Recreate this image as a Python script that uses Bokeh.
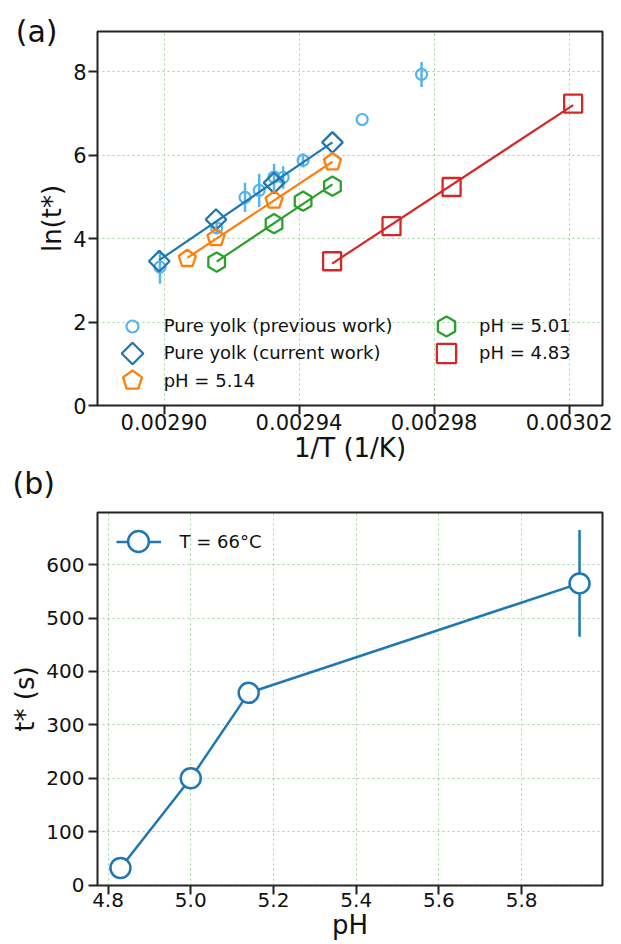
import numpy as np
from bokeh.plotting import figure
from bokeh.models import (Range1d, FixedTicker, PrintfTickFormatter, Legend, LegendItem,
                          LinearAxis, CustomJSTickFormatter, Title)
from bokeh.layouts import column
from bokeh.embed import file_html
from bokeh.resources import INLINE

# ---------------- data: panel (a) ----------------
prev_invT = [0.0028988, 0.0029156, 0.0029240, 0.0029282, 0.0029326, 0.0029353, 0.0029412, 0.0029587, 0.0029763]
prev_ln = [3.32, 4.26, 4.99, 5.16, 5.48, 5.47, 5.88, 6.86, 7.94]
prev_err = [0.40, 0.12, 0.35, 0.40, 0.32, 0.27, 0.17, 0.0, 0.30]

cur_invT = [0.0028986, 0.0029154, 0.0029326, 0.0029499]
cur_ln = [3.46, 4.46, 5.34, 6.31]

ph514_invT = [0.0029069, 0.0029154, 0.0029326, 0.0029499]
ph514_ln = [3.52, 4.02, 4.92, 5.84]

ph501_invT = [0.0029156, 0.0029326, 0.0029412, 0.0029499]
ph501_ln = [3.44, 4.36, 4.90, 5.26]

ph483_invT = [0.0029498, 0.0029674, 0.0029852, 0.0030212]
ph483_ln = [3.46, 4.30, 5.24, 7.24]

xticks_a = [0.00290, 0.00294, 0.00298, 0.00302]
yticks_a = [0, 2, 4, 6, 8]

# ---------------- data: panel (b) ----------------
pH = [4.83, 5.00, 5.14, 5.94]
tstar = [32, 200, 360, 565]
tstar_err = [0, 0, 0, 100]
xticks_b = [4.8, 5.0, 5.2, 5.4, 5.6, 5.8]
yticks_b = [0, 100, 200, 300, 400, 500, 600]

BLUE = "#1f77b4"
ORANGE = "#ff7f0e"
GREEN = "#2ca02c"
RED = "#d62728"
LIGHT = "#56b4e9"
FONT = "DejaVu Sans"
INK = "#222222"


def style(p, tick_size, lab_size):
    p.outline_line_color = INK
    p.outline_line_width = 2
    p.outline_line_alpha = 1
    p.background_fill_color = "white"
    p.border_fill_color = "white"
    for g in p.grid:
        g.grid_line_color = GREEN
        g.grid_line_alpha = 0.45
        g.grid_line_width = 1
        g.grid_line_dash = "2 3"
    for ax in p.axis:
        ax.axis_line_color = None
        ax.major_tick_out = 9
        ax.major_tick_in = 0
        ax.major_tick_line_width = 2
        ax.major_tick_line_color = INK
        ax.minor_tick_line_color = None
        ax.major_label_text_font = FONT
        ax.major_label_text_font_size = tick_size
        ax.major_label_text_color = "#111111"
        ax.axis_label_text_font = FONT
        ax.axis_label_text_font_size = lab_size
        ax.axis_label_text_font_style = "normal"
        ax.axis_label_text_color = "#111111"


def fit_line(xs, ys):
    k, b = np.polyfit(xs, ys, 1)
    x0, x1 = min(xs), max(xs)
    return [x0, x1], [k * x0 + b, k * x1 + b]


def one_legend(p, label, renderers, gw, gh, x, y, standoff):
    lg = Legend(items=[LegendItem(label=label, renderers=renderers)],
                location=(x, y), glyph_width=int(gw), glyph_height=int(gh),
                label_standoff=int(standoff), padding=0, margin=0, spacing=0,
                border_line_color=None, background_fill_alpha=0,
                label_text_font=FONT, label_text_font_size="18px",
                label_text_color="#111111")
    p.add_layout(lg, "center")
    return lg


# ================= panel (a) =================
p1 = figure(frame_width=505, frame_height=374,
            x_range=Range1d(0.0028803, 0.0030299), y_range=Range1d(0, 8.97),
            min_border_left=97, min_border_right=10, min_border_top=31, min_border_bottom=40,
            output_backend="svg", toolbar_location=None)
p1.xaxis.ticker = FixedTicker(ticks=xticks_a)
p1.yaxis.ticker = FixedTicker(ticks=yticks_a)
p1.xaxis.formatter = PrintfTickFormatter(format="%.5f")
p1.xaxis.axis_label = "1/T (1/K)"
p1.yaxis.axis_label = "ln(t*)"
style(p1, "21px", "26px")
p1.xaxis.major_label_standoff = -1
p1.yaxis.major_label_standoff = 2
p1.xaxis.axis_label_standoff = 0
p1.yaxis.axis_label_standoff = 3

# panel tag "(a)": an unlined outer axis whose single label sits at the top-left
tag_a = LinearAxis(ticker=FixedTicker(ticks=[8.965]),
                   formatter=CustomJSTickFormatter(code="return '(a)'"),
                   axis_line_color=None, major_tick_line_color=None, minor_tick_line_color=None,
                   major_tick_out=0, major_tick_in=0, major_label_standoff=-23,
                   major_label_text_font=FONT, major_label_text_font_size="30px",
                   major_label_text_color="#111111")
p1.add_layout(tag_a, "left")

# panel tag "(b)": placed under panel (a)'s x-axis label
tag_b = Title(text="(b)", align="left", vertical_align="top", offset=-85, standoff=0,
              text_font=FONT, text_font_size="30px", text_font_style="normal",
              text_color="#111111")
p1.add_layout(tag_b, "below")

# previous work (error bars + circles)
lo = [v - e for v, e in zip(prev_ln, prev_err)]
hi = [v + e for v, e in zip(prev_ln, prev_err)]
p1.segment(x0=prev_invT, y0=lo, x1=prev_invT, y1=hi, line_color=LIGHT, line_width=2.5)
r_prev = p1.scatter(prev_invT, prev_ln, marker="circle", size=11, fill_color=None,
                    line_color=LIGHT, line_width=2.2)
r_prev_bar = p1.vbar(x=[], top=[], bottom=[], width=0.000001, fill_color=LIGHT, line_color=None)

# current work
fx, fy = fit_line(cur_invT, cur_ln)
p1.line(fx, fy, line_color=BLUE, line_width=2.2)
r_cur = p1.ngon(x=cur_invT, y=cur_ln, radius=10.3, radius_units="screen", n=4,
                fill_color=None, line_color=BLUE, line_width=2.3)

# pH 5.14
fx, fy = fit_line(ph514_invT, ph514_ln)
p1.line(fx, fy, line_color=ORANGE, line_width=2.2)
r_514 = p1.ngon(x=ph514_invT, y=ph514_ln, radius=9, radius_units="screen", n=5,
                fill_color=None, line_color=ORANGE, line_width=2.3)

# pH 5.01
fx, fy = fit_line(ph501_invT, ph501_ln)
p1.line(fx, fy, line_color=GREEN, line_width=2.2)
r_501 = p1.ngon(x=ph501_invT, y=ph501_ln, radius=9.6, radius_units="screen", n=6,
                fill_color=None, line_color=GREEN, line_width=2.3)

# pH 4.83
fx, fy = fit_line(ph483_invT, ph483_ln)
p1.line(fx, fy, line_color=RED, line_width=2.2)
r_483 = p1.scatter(ph483_invT, ph483_ln, marker="square", size=18,
                   fill_color=None, line_color=RED, line_width=2.3)

one_legend(p1, " ", [r_prev_bar], 3, 23, 33.2, 67.8, 0)
one_legend(p1, "Pure yolk (previous work)", [r_prev], 30, 30, 19.7, 64.3, 17)
one_legend(p1, "Pure yolk (current work)", [r_cur], 54, 54, 7.7, 25.3, 5)
one_legend(p1, "pH = 5.14", [r_514], 50, 50, 9.7, 0, 7)
one_legend(p1, "pH = 5.01", [r_501], 50, 50, 324, 54.3, 8)
one_legend(p1, "pH = 4.83", [r_483], 48, 48, 325, 28.3, 9)

# ================= panel (b) =================
p2 = figure(frame_width=505, frame_height=373,
            x_range=Range1d(4.7745, 5.9955), y_range=Range1d(-0.75, 697.75),
            min_border_left=94, min_border_right=10, min_border_top=10, min_border_bottom=30,
            output_backend="svg", toolbar_location=None)
p2.xaxis.ticker = FixedTicker(ticks=xticks_b)
p2.yaxis.ticker = FixedTicker(ticks=yticks_b)
p2.xaxis.formatter = PrintfTickFormatter(format="%.1f")
p2.xaxis.axis_label = "pH"
p2.yaxis.axis_label = "t* (s)"
style(p2, "20px", "26px")
p2.xaxis.major_label_standoff = -2
p2.yaxis.major_label_standoff = 4
p2.xaxis.axis_label_standoff = 0
p2.yaxis.axis_label_standoff = 3

lo_b = [v - e for v, e in zip(tstar, tstar_err)]
hi_b = [v + e for v, e in zip(tstar, tstar_err)]
p2.segment(x0=pH, y0=lo_b, x1=pH, y1=hi_b, line_color=BLUE, line_width=2.5)
r_line = p2.line(pH, tstar, line_color=BLUE, line_width=2.5)
r_circ = p2.scatter(pH, tstar, marker="circle", size=20, fill_color="white",
                    line_color=BLUE, line_width=2.5)

one_legend(p2, "T = 66°C", [r_line], 45, 45, 18.5, 321.5, 19)
one_legend(p2, " ", [r_circ], 52, 52, 15, 318, 0)

layout = column(p1, p2, spacing=0)
open("out.html", "w").write(file_html(layout, INLINE))
